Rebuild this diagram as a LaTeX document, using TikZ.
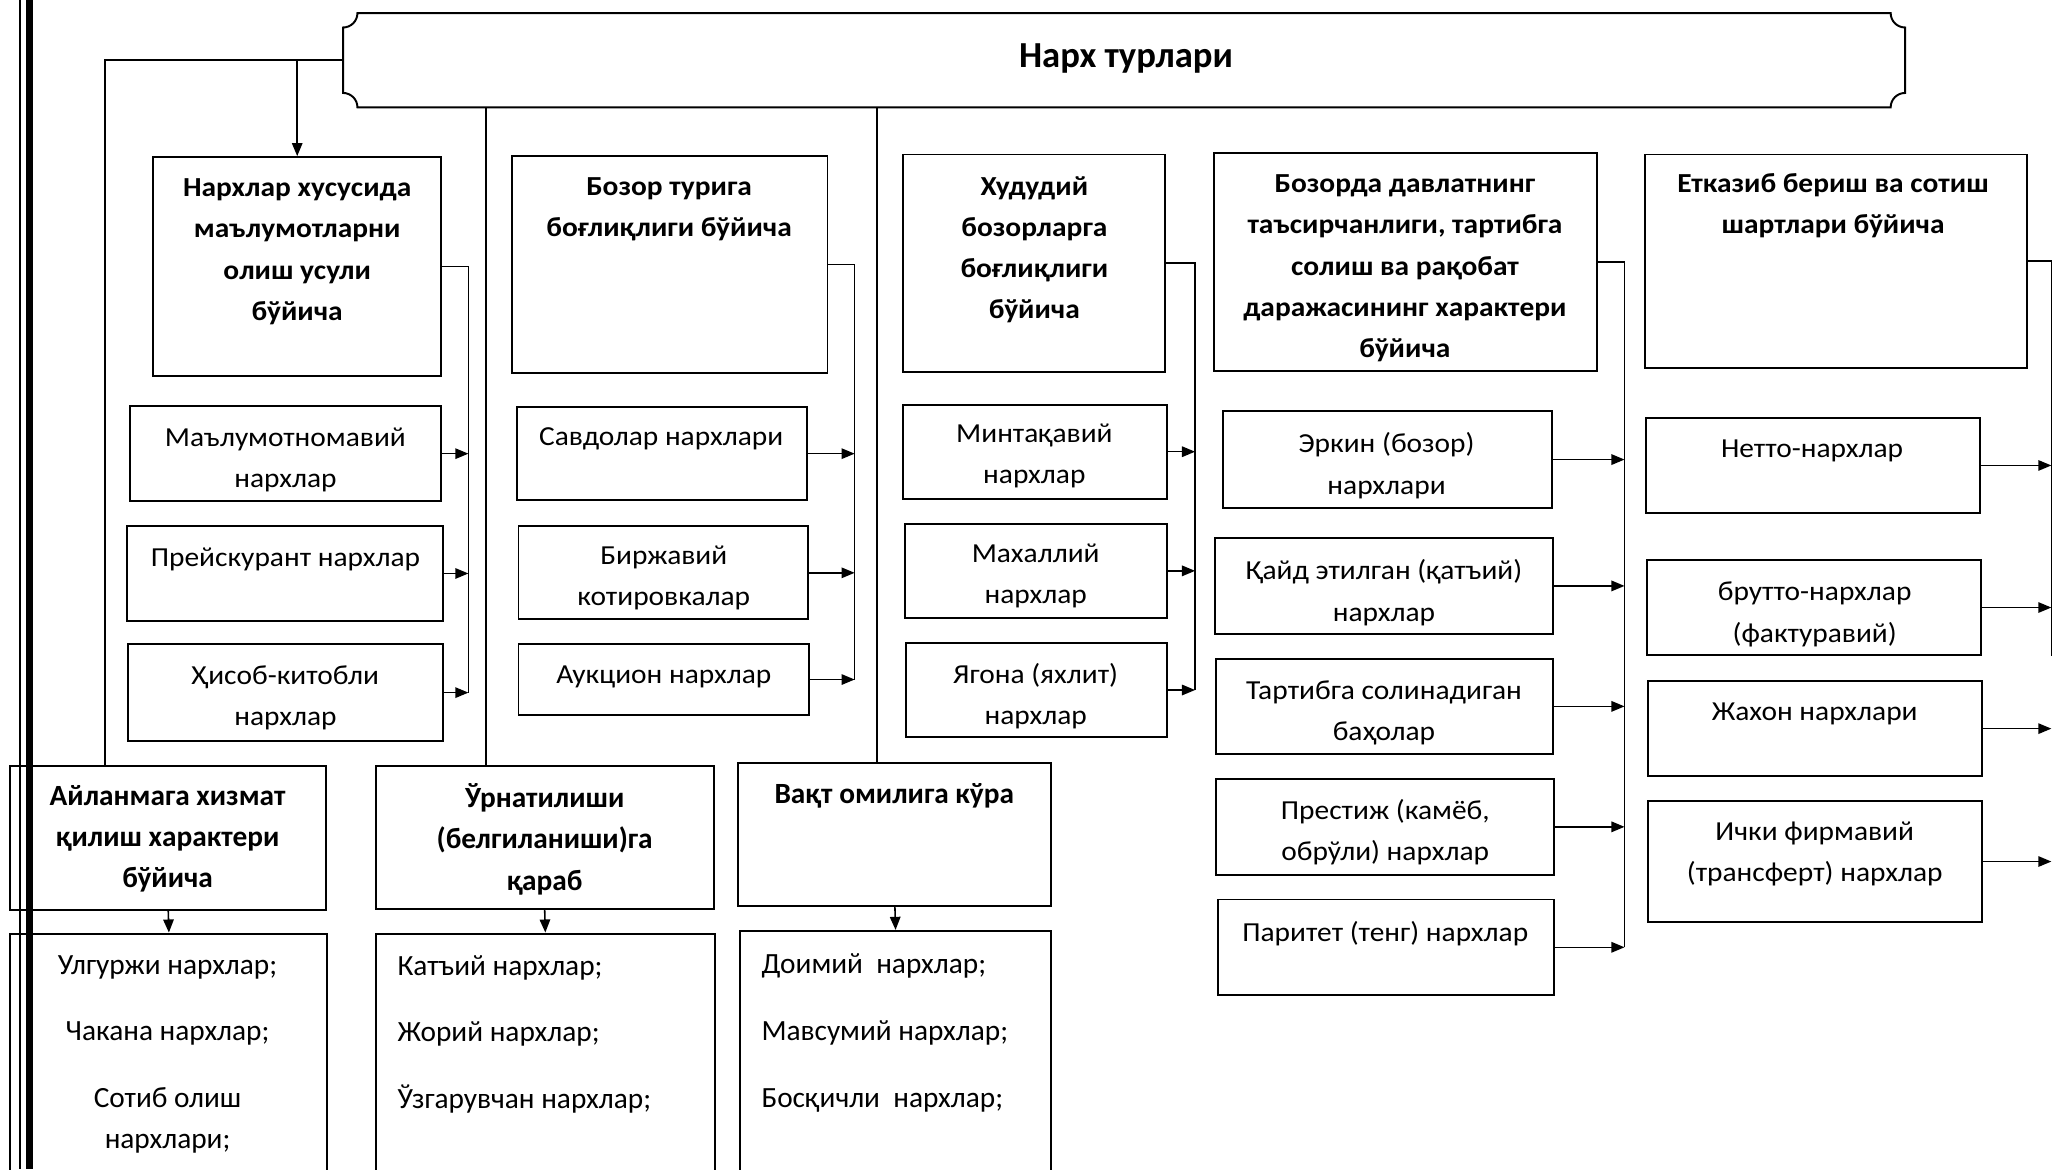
\documentclass[tikz,border=0pt]{standalone}
\usepackage{fontspec}
\setmainfont{Carlito}
\newfontfamily\widefont[FakeStretch=1.07]{Carlito}
\usetikzlibrary{arrows.meta,fit}

\tikzset{every picture/.style={line width=0.6pt}}
\tikzset{
  box/.style={draw, line width=0.75pt, inner sep=0pt},
  txt/.style={anchor=north, align=center, inner sep=0pt, font=\widefont\fontsize{10.5}{15.75}\selectfont},
  hdr/.style={txt, font=\widefont\bfseries\fontsize{10.5}{15.75}\selectfont},
  btxt/.style={anchor=north, align=center, inner sep=0pt, font=\fontsize{11.2}{15.75}\selectfont},
  bhdr/.style={btxt, font=\bfseries\fontsize{11.2}{15.75}\selectfont},
  arr/.style={-{Triangle[length=5pt,width=4pt]}},
}

\begin{document}
\begin{tikzpicture}[x=0.5pt,y=0.5pt,yscale=-1,xscale=1]
\useasboundingbox (0,0) rectangle (1568,893);

%Shape: Plaque [id:top]
\draw [line width=0.75pt] (273,10) -- (1444,10) .. controls (1444,16.07) and (1448.93,21) .. (1455,21) -- (1455,71) .. controls (1448.93,71) and (1444,75.93) .. (1444,82) -- (273,82) .. controls (273,75.93) and (268.07,71) .. (262,71) -- (262,21) .. controls (268.07,21) and (273,16.07) .. (273,10) -- cycle ;
\node [inner sep=0pt, fit={(262,10) (1455,82)}] (top) {};
% Text Node
\node [font=\bfseries\fontsize{14}{16}\selectfont] (topt) at (860,45) {Нарх турлари};

%Column 1
\node [box, fit={(117,120) (337,287)}] (h1) {};
\node [box, fit={(99,310) (337,383)}] (c11) {};
\node [box, fit={(97,402) (338,474)}] (c12) {};
\node [box, fit={(98,492) (338,566)}] (c13) {};
% Text Node
\node [hdr] (h1t) at (227,136) {Нархлар хусусида\\маълумотларни\\олиш усули\\бўйича};
\node [txt] (c11t) at (218,326) {Маълумотномавий\\нархлар};
\node [txt] (c12t) at (218,418) {Прейскурант нархлар};
\node [txt] (c13t) at (218,508) {Ҳисоб-китобли\\нархлар};

%Column 2
\node [box, fit={(391,119) (632,285)}] (h2) {};
\node [box, fit={(395,311) (616,382)}] (c21) {};
\node [box, fit={(396,402) (617,473)}] (c22) {};
\node [box, fit={(396,492) (618,546)}] (c23) {};
% Text Node
\node [hdr] (h2t) at (511,135) {Бозор турига\\боғлиқлиги бўйича};
\node [txt] (c21t) at (505,326) {Савдолар нархлари};
\node [txt] (c22t) at (507,416) {Биржавий\\котировкалар};
\node [txt] (c23t) at (507,508) {Аукцион нархлар};

%Column 3
\node [box, fit={(690,118) (890,284)}] (h3) {};
\node [box, fit={(690,309) (891,381)}] (c31) {};
\node [box, fit={(691,400) (891,472)}] (c32) {};
\node [box, fit={(692,491) (891,563)}] (c33) {};
% Text Node
\node [hdr] (h3t) at (790,134) {Худудий\\бозорларга\\боғлиқлиги\\бўйича};
\node [txt] (c31t) at (790,323) {Минтақавий\\нархлар};
\node [txt] (c32t) at (791,415) {Махаллий\\нархлар};
\node [txt] (c33t) at (791,506) {Ягона (яхлит)\\нархлар};

%Column 4
\node [box, fit={(927,117) (1220,283)}] (h4) {};
\node [box, fit={(934,314) (1185,388)}] (c41) {};
\node [box, fit={(928,411) (1186,484)}] (c42) {};
\node [box, fit={(929,503) (1186,576)}] (c43) {};
\node [box, fit={(929,595) (1187,668)}] (c44) {};
\node [box, fit={(930,687) (1187,760)}] (c45) {};
% Text Node
\node [hdr] (h4t) at (1073,133) {Бозорда давлатнинг\\таъсирчанлиги, тартибга\\солиш ва рақобат\\даражасининг характери\\бўйича};
\node [txt] (c41t) at (1059,330) {Эркин (бозор)\\нархлари};
\node [txt] (c42t) at (1057,427) {Қайд этилган (қатъий)\\нархлар};
\node [txt] (c43t) at (1057,519) {Тартибга солинадиган\\баҳолар};
\node [txt] (c44t) at (1058,610) {Престиж (камёб,\\обрўли) нархлар};
\node [txt] (c45t) at (1058,703) {Паритет (тенг) нархлар};

%Column 5
\node [box, fit={(1256,118) (1548,281)}] (h5) {};
\node [box, fit={(1257,319) (1512,392)}] (c51) {};
\node [box, fit={(1258,428) (1513,500)}] (c52) {};
\node [box, fit={(1259,520) (1514,593)}] (c53) {};
\node [box, fit={(1259,612) (1514,704)}] (c54) {};
% Text Node
\node [hdr] (h5t) at (1400,132) {Етказиб бериш ва сотиш\\шартлари бўйича};
\node [txt] (c51t) at (1384,335) {Нетто-нархлар};
\node [txt] (c52t) at (1386,444) {брутто-нархлар\\(фактуравий)};
\node [txt] (c53t) at (1386,536) {Жахон нархлари};
\node [txt] (c54t) at (1386,627) {Ички фирмавий\\(трансферт) нархлар};

%Bottom row
\node [box, fit={(8,585) (249,695)}] (ail) {};
\node [box, fit={(8,713) (250,905)}] (ailL) {};
\node [box, fit={(287,585) (545,694)}] (urn) {};
\node [box, fit={(287,713) (546,905)}] (urnL) {};
\node [box, fit={(564,583) (803,692)}] (vaq) {};
\node [box, fit={(565,711) (803,905)}] (vaqL) {};
% Text Node
\node [bhdr] (ailt) at (128,599) {Айланмага хизмат\\қилиш характери\\бўйича};
\node [btxt] (ailLt) at (128,729) {Улгуржи нархлар;\\[9.75pt]Чакана нархлар;\\[9.75pt]Сотиб олиш\\нархлари;};
\node [bhdr] (urnt) at (416,598) {Ўрнатилиши\\(белгиланиши)га\\қараб};
\node [btxt, anchor=north west, align=left] (urnLt) at (303,729) {Катъий нархлар;\\[9.75pt]Жорий нархлар;\\[9.75pt]Ўзгарувчан нархлар;};
\node [bhdr] (vaqt) at (683,598) {Вақт омилига кўра};
\node [btxt, anchor=north west, align=left] (vaqLt) at (581,728) {Доимий\ \ нархлар;\\[9.75pt]Мавсумий нархлар;\\[9.75pt]Босқичли\ \ нархлар;};

%Lines from the title
\draw (top.west) -| ([xshift=-24.25pt]ail.north);
\draw [arr] (top.west -| h1.north) -- (h1.north);
\draw ([xshift=-22.5pt]urn.north |- top.south) -- ([xshift=-22.5pt]urn.north);
\draw ([xshift=-6.75pt]vaq.north |- top.south) -- ([xshift=-6.75pt]vaq.north);

%Brackets
\draw (h1.east) -- ++(20,0) coordinate (b1) -- (b1 |- c13.east);
\foreach \c in {c11,c12,c13} \draw [arr] (\c.east) -- (\c.east -| b1);
\draw (h2.east) -- ++(20,0) coordinate (b2) -- (b2 |- c23.east);
\foreach \c in {c21,c22,c23} \draw [arr] (\c.east) -- (\c.east -| b2);
\draw (h3.east) -- ++(22,0) coordinate (b3) -- (b3 |- c33.east);
\foreach \c in {c31,c32,c33} \draw [arr] (\c.east) -- (\c.east -| b3);
\draw (h4.east) -- ++(20,0) coordinate (b4) -- (b4 |- c45.east);
\foreach \c in {c41,c42,c43,c44,c45} \draw [arr] (\c.east) -- (\c.east -| b4);
\draw (h5.east) -- ++(18,0) coordinate (b5) -- (b5 |- c52.south);
\foreach \c in {c51,c52,c53,c54} \draw [arr] (\c.east) -- (\c.east -| b5);

%Bottom arrows
\draw [arr] (ail.south) -- (ailL.north);
\draw [arr] (urn.south) -- (urnL.north);
\draw [arr] (vaq.south) -- (vaqL.north);

%Double rule at the left
\draw [line width=0.8pt] (15.5,0) -- (15.5,893);
\draw [line width=3pt] (22.5,0) -- (22.5,893);

\end{tikzpicture}
\end{document}
